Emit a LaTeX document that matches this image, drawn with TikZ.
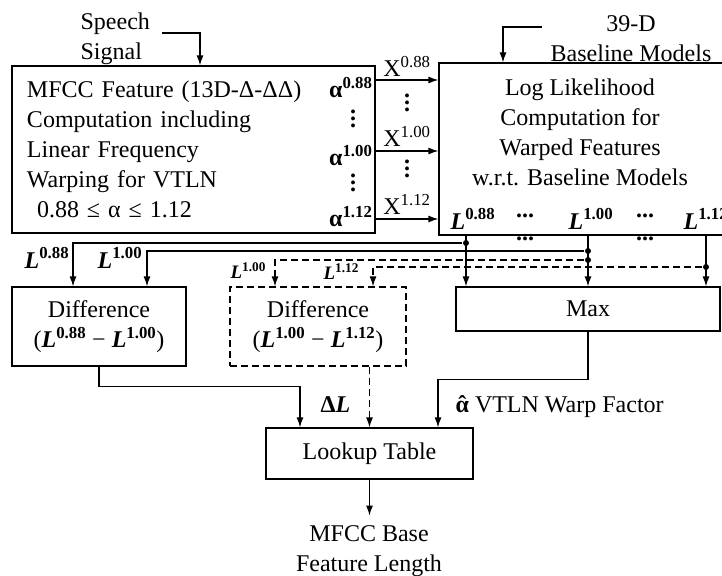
\documentclass[tikz,border=0pt]{standalone}
\usepackage{fontspec}
\setmainfont{Liberation Serif}
\usetikzlibrary{arrows.meta,positioning,calc}

\newcommand{\Lw}[1]{\textbf{\textit{L}}\textsuperscript{\textbf{#1}}}
\newcommand{\aw}[1]{\textbf{α}\textsuperscript{\textbf{#1}}}
\newcommand{\vdts}{\vbox{\baselineskip=7pt\hbox{\textbf{.}}\hbox{\textbf{.}}\hbox{\textbf{.}}}}
\newcommand{\ahat}{\ooalign{\textbf{α}\cr\hidewidth\textbf{ˆ}\hidewidth\cr}}

\begin{document}
\begin{tikzpicture}[x=1pt, y=-1pt, >={Latex[length=10pt,width=7pt]}, line width=1.2pt,
  every node/.style={font=\fontsize{24}{30}\selectfont, inner sep=0pt},
  box/.style={draw, rectangle, inner sep=0pt},
  dbox/.style={box, dash pattern=on 7pt off 4pt},
  dsh/.style={dash pattern=on 7pt off 4pt},
  small/.style={font=\fontsize{19}{22}\selectfont},
  dot/.style={circle, fill, inner sep=0pt, minimum size=6pt}]
\useasboundingbox (0,0) rectangle (722,575);
\clip (0,0) rectangle (722,575);

\node[anchor=west, align=left] (sig) at (80,39) {Speech\\Signal};
\node[align=center] (bm) at (631,39) {39-D\\Baseline Models};

\node[box, minimum width=363pt, minimum height=167pt, text width=333pt, align=left] (fe) at (193.5,149.5)
  {MFCC Feature (13D-Δ-ΔΔ)\\Computation including\\Linear Frequency\\Warping for VTLN\\\hspace*{10pt}0.88 ≤ α ≤ 1.12};
\node[box, minimum width=291pt, minimum height=172pt] (ll) at (584.5,149) {};
\node[align=center] (lltxt) at (580,132) {Log Likelihood\\Computation for\\Warped Features\\w.r.t. Baseline Models};

\node[anchor=east] (a088) at (373,88) {\aw{0.88}};
\node[anchor=east] (a100) at (373,156) {\aw{1.00}};
\node[anchor=east] (a112) at (373,217) {\aw{1.12}};
\node (av1) at (353,119) {\vdts};
\node (av2) at (353,183) {\vdts};

\node (x088) at (407,66) {X\textsuperscript{0.88}};
\node (x100) at (407,136) {X\textsuperscript{1.00}};
\node (x112) at (407,204) {X\textsuperscript{1.12}};
\node (xv1) at (407,103) {\vdts};
\node (xv2) at (407,169) {\vdts};

\draw[->] (fe.east |- 0,80) -- (ll.west |- 0,80);
\draw[->] (fe.east |- 0,151) -- (ll.west |- 0,151);
\draw[->] (fe.east |- 0,219) -- (ll.west |- 0,219);

\node[anchor=base west] (l088) at (450,229) {\Lw{0.88}};
\node[anchor=base west] (l100) at (568,229) {\Lw{1.00}};
\node[anchor=base west] (l112) at (683,229) {\Lw{1.12}};
\node (hd1) at (525,216) {\textbf{...}};
\node (hd2) at (645,216) {\textbf{...}};
\node (hd3) at (525,239) {\textbf{...}};
\node (hd4) at (645,239) {\textbf{...}};

\node[box, minimum width=174pt, minimum height=79pt, align=center] (diffa) at (99,326.5)
  {Difference\\(\Lw{0.88} − \Lw{1.00})};
\node[dbox, minimum width=176pt, minimum height=79pt, align=center] (diffb) at (318,326.5)
  {Difference\\(\Lw{1.00} − \Lw{1.12})};
\node[box, minimum width=264pt, minimum height=44pt] (mx) at (588,309) {Max};
\node[box, minimum width=207pt, minimum height=51pt] (lut) at (369.5,453.5) {Lookup Table};
\node[anchor=north, align=center] (out) at (369,525) {MFCC Base\\Feature Length};

\node[dot] (j1) at (466,243) {};
\node[dot] (j2) at (588,251) {};
\node[dot] (j3) at (588,260) {};
\node[dot] (j4) at (706,267) {};

\node[anchor=base west] (la1) at (24,268) {\Lw{0.88}};
\node[anchor=base west] (la2) at (97,268) {\Lw{1.00}};
\node[small, anchor=base west] (lb1) at (230,278) {\Lw{1.00}};
\node[small, anchor=base west] (lb2) at (323,279) {\Lw{1.12}};
\node[anchor=base west] (dl) at (320,412) {\textbf{Δ\textit{L}}};
\node[anchor=base west] (wf) at (455,412) {\ahat\ VTLN Warp Factor};

\draw[->] ([shift={(11pt,6pt)}]sig.east) -| ([xshift=6.5pt]fe.north);
\draw[->] ([shift={(-8pt,12pt)}]bm.west) -| ([xshift=-81.5pt]ll.north);

\draw[->] (ll.south -| j1) -- (mx.north -| j1);
\draw[->] (ll.south -| j2) -- (mx.north -| j2);
\draw[->] (ll.south -| j4) -- (mx.north -| j4);

\draw[->] (j1) -| ([xshift=-26pt]diffa.north);
\draw[->] (j2) -| ([xshift=48pt]diffa.north);
\draw[->, dsh] (j3) -| ([xshift=-43pt]diffb.north);
\draw[->, dsh] (j4) -| ([xshift=55pt]diffb.north);

\draw[->] (diffa.south) -- ++(0,20) -| ([xshift=-69.5pt]lut.north);
\draw[->, dsh] (diffb.south -| lut.north) -- (lut.north);
\draw[->] (mx.south) -- ++(0,48) -| ([xshift=68.5pt]lut.north);
\draw[->] (lut.south) -- ++(0,36);
\end{tikzpicture}
\end{document}
